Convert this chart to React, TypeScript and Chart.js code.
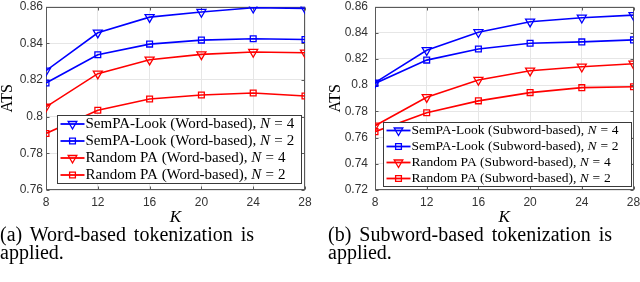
import React, { useEffect, useRef } from "react";
import { Chart, registerables } from "chart.js";
Chart.register(...registerables);

// ---------- data ----------
const kValues = [8, 12, 16, 20, 24, 28];
const kTicks = [8, 12, 16, 20, 24, 28];

const wordAtsTicks = [0.76, 0.78, 0.8, 0.82, 0.84, 0.86];
const subAtsTicks = [0.72, 0.74, 0.76, 0.78, 0.8, 0.82, 0.84, 0.86];

const wordSemPA4 = [0.825, 0.8457, 0.8542, 0.857, 0.8593, 0.859];
const wordSemPA2 = [0.8183, 0.8337, 0.8395, 0.8417, 0.8424, 0.842];
const wordRandom4 = [0.8053, 0.8234, 0.831, 0.8339, 0.8352, 0.8348];
const wordRandom2 = [0.7908, 0.8035, 0.8096, 0.8118, 0.8129, 0.8112];

const subSemPA4 = [0.8019, 0.8266, 0.8403, 0.8484, 0.8514, 0.8534];
const subSemPA2 = [0.8013, 0.8191, 0.8276, 0.832, 0.833, 0.8345];
const subRandom4 = [0.769, 0.7908, 0.8039, 0.811, 0.814, 0.8163];
const subRandom2 = [0.7645, 0.7789, 0.788, 0.7943, 0.7981, 0.7988];

const wordNames = [
  "SemPA-Look (Word-based)",
  "SemPA-Look (Word-based)",
  "Random PA (Word-based)",
  "Random PA (Word-based)",
];
const subNames = [
  "SemPA-Look (Subword-based)",
  "SemPA-Look (Subword-based)",
  "Random PA (Subword-based)",
  "Random PA (Subword-based)",
];
const nValues = [4, 2, 4, 2];

const captionA = ["(a) Word-based tokenization is", "applied."];
const captionB = ["(b) Subword-based tokenization is", "applied."];

// ---------- styles ----------
const seriesColors = ["#0000ff", "#0000ff", "#ff0000", "#ff0000"];
const seriesMarkers = ["tri", "sq", "tri", "sq"];

const SERIF = "'Liberation Serif', 'Times New Roman', serif";
const SANS = "'Liberation Sans', Arial, sans-serif";

type LegendSpec = {
  rightInset: number;
  bottomInset: number;
  width: number;
  height: number;
  fontSize: number;
  names: string[];
};

type PanelSpec = {
  series: number[][];
  yTicks: number[];
  leftWidth: number;
  rightPad: number;
  yTickPad: number;
  yTitlePad: number;
  legend: LegendSpec;
};

function drawMarker(ctx: CanvasRenderingContext2D, kind: string, x: number, y: number, color: string) {
  ctx.save();
  ctx.strokeStyle = color;
  ctx.lineWidth = 1.3;
  ctx.beginPath();
  if (kind === "tri") {
    const r = 5;
    const s = r * Math.sin(Math.PI / 3);
    ctx.moveTo(x, y + r);
    ctx.lineTo(x - s, y - r / 2);
    ctx.lineTo(x + s, y - r / 2);
    ctx.closePath();
  } else {
    const h = 2.9;
    ctx.rect(x - h, y - h, 2 * h, 2 * h);
  }
  ctx.stroke();
  ctx.restore();
}

const framePlugin = {
  id: "matFrame",
  beforeDatasetsDraw(chart: any) {
    const { ctx, chartArea } = chart;
    const l = Math.round(chartArea.left) + 0.5;
    const t = Math.round(chartArea.top) + 0.5;
    const r = Math.round(chartArea.right) - 0.5;
    const b = Math.round(chartArea.bottom) - 0.5;
    ctx.save();
    ctx.strokeStyle = "#5a5a5a";
    ctx.lineWidth = 1;
    ctx.strokeRect(l, t, r - l, b - t);
    // inward tick marks
    const tl = 3;
    ctx.beginPath();
    const xs = chart.scales.x;
    const ys = chart.scales.y;
    xs.ticks.forEach((tk: any) => {
      const px = Math.round(xs.getPixelForValue(tk.value)) + 0.5;
      ctx.moveTo(px, b);
      ctx.lineTo(px, b - tl);
      ctx.moveTo(px, t);
      ctx.lineTo(px, t + tl);
    });
    ys.ticks.forEach((tk: any) => {
      const py = Math.round(ys.getPixelForValue(tk.value)) + 0.5;
      ctx.moveTo(l, py);
      ctx.lineTo(l + tl, py);
      ctx.moveTo(r, py);
      ctx.lineTo(r - tl, py);
    });
    ctx.stroke();
    ctx.restore();
  },
};

const legendPlugin = {
  id: "matLegend",
  afterDraw(chart: any) {
    const spec: LegendSpec = chart.options.plugins.matLegend;
    if (!spec) return;
    const { ctx, chartArea } = chart;
    const right = Math.round(chartArea.right - spec.rightInset) + 0.5;
    const bottom = Math.round(chartArea.bottom - spec.bottomInset) + 0.5;
    const left = right - spec.width;
    const top = bottom - spec.height;
    ctx.save();
    ctx.fillStyle = "#ffffff";
    ctx.fillRect(left, top, spec.width, spec.height);
    ctx.strokeStyle = "#3a3a3a";
    ctx.lineWidth = 1;
    ctx.strokeRect(left, top, spec.width, spec.height);
    const rowH = spec.height / 4;
    const fs = spec.fontSize;
    chart.data.datasets.forEach((ds: any, i: number) => {
      const cy = top + (i + 0.5) * rowH;
      const color = seriesColors[i];
      ctx.strokeStyle = color;
      ctx.lineWidth = 1.8;
      ctx.beginPath();
      ctx.moveTo(left + 3, cy);
      ctx.lineTo(left + 27, cy);
      ctx.stroke();
      drawMarker(ctx, seriesMarkers[i], left + 15, cy, color);
      // text
      ctx.fillStyle = "#000000";
      ctx.textBaseline = "middle";
      ctx.textAlign = "left";
      let x = left + 28;
      ctx.font = `${fs}px ${SERIF}`;
      const part1 = spec.names[i] + ", ";
      ctx.fillText(part1, x, cy);
      x += ctx.measureText(part1).width;
      ctx.font = `italic ${fs}px ${SERIF}`;
      ctx.fillText("N", x, cy);
      x += ctx.measureText("N").width + fs * 0.28;
      ctx.font = `${fs}px ${SERIF}`;
      ctx.fillText("=", x, cy);
      x += ctx.measureText("=").width + fs * 0.28;
      ctx.fillText(String(nValues[i]), x, cy);
    });
    ctx.restore();
  },
};

function makeConfig(p: PanelSpec): any {
  const datasets = p.series.map((s, i) => ({
    label: p.legend.names[i],
    data: kValues.map((k, j) => ({ x: k, y: s[j] })),
    borderColor: seriesColors[i],
    backgroundColor: "rgba(0,0,0,0)",
    borderWidth: 1.6,
    pointStyle: seriesMarkers[i] === "tri" ? "triangle" : "rect",
    pointRotation: seriesMarkers[i] === "tri" ? 180 : 0,
    pointRadius: seriesMarkers[i] === "tri" ? 5.2 : 4.1,
    pointBorderWidth: 1.3,
    pointBorderColor: seriesColors[i],
    pointBackgroundColor: "rgba(255,255,255,0)",
    tension: 0,
    fill: false,
  }));
  return {
    type: "line",
    data: { datasets },
    plugins: [framePlugin, legendPlugin],
    options: {
      responsive: false,
      animation: false,
      events: [],
      layout: { padding: { top: 6, right: p.rightPad, bottom: 0, left: 0 } },
      plugins: {
        legend: { display: false },
        tooltip: { enabled: false },
        matLegend: p.legend,
      },
      scales: {
        x: {
          type: "linear",
          min: kTicks[0],
          max: kTicks[kTicks.length - 1],
          afterBuildTicks: (scale: any) => {
            scale.ticks = kTicks.map((v) => ({ value: v }));
          },
          afterFit: (scale: any) => {
            scale.height = 38;
            scale.paddingLeft = 0;
            scale.paddingRight = 0;
          },
          grid: { color: "#e6e6e6", lineWidth: 1, drawTicks: false },
          border: { display: false },
          ticks: {
            padding: 5,
            color: "#333333",
            font: { family: SANS, size: 12 },
            maxRotation: 0,
            autoSkip: false,
            callback: (v: any) => String(v),
          },
          title: {
            display: true,
            text: "K",
            color: "#000000",
            font: { family: SERIF, size: 17, style: "italic", lineHeight: 1 },
            padding: { top: 0, bottom: 2 },
          },
        },
        y: {
          type: "linear",
          min: p.yTicks[0],
          max: p.yTicks[p.yTicks.length - 1],
          afterBuildTicks: (scale: any) => {
            scale.ticks = p.yTicks.map((v) => ({ value: v }));
          },
          afterFit: (scale: any) => {
            scale.width = p.leftWidth;
            scale.paddingTop = 0;
            scale.paddingBottom = 0;
          },
          grid: { color: "#e6e6e6", lineWidth: 1, drawTicks: false },
          border: { display: false },
          ticks: {
            padding: p.yTickPad,
            color: "#333333",
            font: { family: SANS, size: 12 },
            autoSkip: false,
            callback: (v: any) => String(Number(Number(v).toFixed(2))),
          },
          title: {
            display: true,
            text: "ATS",
            color: "#000000",
            font: { family: SERIF, size: 16, lineHeight: 1 },
            padding: { top: p.yTitlePad, bottom: 0 },
          },
        },
      },
    },
  };
}

const panelA: PanelSpec = {
  series: [wordSemPA4, wordSemPA2, wordRandom4, wordRandom2],
  yTicks: wordAtsTicks,
  leftWidth: 46,
  rightPad: 15,
  yTickPad: 3,
  yTitlePad: 0,
  legend: { rightInset: 4, bottomInset: 7, width: 244, height: 68, fontSize: 15, names: wordNames },
};

const panelB: PanelSpec = {
  series: [subSemPA4, subSemPA2, subRandom4, subRandom2],
  yTicks: subAtsTicks,
  leftWidth: 55,
  rightPad: 6,
  yTickPad: 7,
  yTitlePad: 8,
  legend: { rightInset: 3, bottomInset: 4, width: 248, height: 64, fontSize: 13.5, names: subNames },
};

function Panel({ spec, left }: { spec: PanelSpec; left: number }) {
  const ref = useRef<HTMLCanvasElement | null>(null);
  useEffect(() => {
    if (!ref.current) return;
    const chart = new Chart(ref.current, makeConfig(spec));
    return () => chart.destroy();
  }, [spec]);
  return (
    <canvas
      ref={ref}
      width={320}
      height={228}
      style={{ position: "absolute", left, top: 0, width: 320, height: 228 }}
    />
  );
}

function Caption({ lines, left, width }: { lines: string[]; left: number; width: number }) {
  const base: React.CSSProperties = {
    position: "absolute",
    left,
    width,
    fontFamily: SERIF,
    fontSize: 20,
    lineHeight: "18px",
    color: "#000",
    whiteSpace: "nowrap",
  };
  return (
    <>
      <div style={{ ...base, top: 225, textAlign: "justify", textAlignLast: "justify", whiteSpace: "normal" }}>
        {lines[0]}
      </div>
      <div style={{ ...base, top: 243 }}>{lines[1]}</div>
    </>
  );
}

export default function App() {
  useEffect(() => {
    document.body.style.margin = "0";
  }, []);
  return (
    <div style={{ position: "absolute", left: 0, top: 0, width: 640, height: 282, background: "#fff", overflow: "hidden" }}>
      <Panel spec={panelA} left={0} />
      <Panel spec={panelB} left={320} />
      <Caption lines={captionA} left={0} width={254} />
      <Caption lines={captionB} left={328} width={284} />
    </div>
  );
}
